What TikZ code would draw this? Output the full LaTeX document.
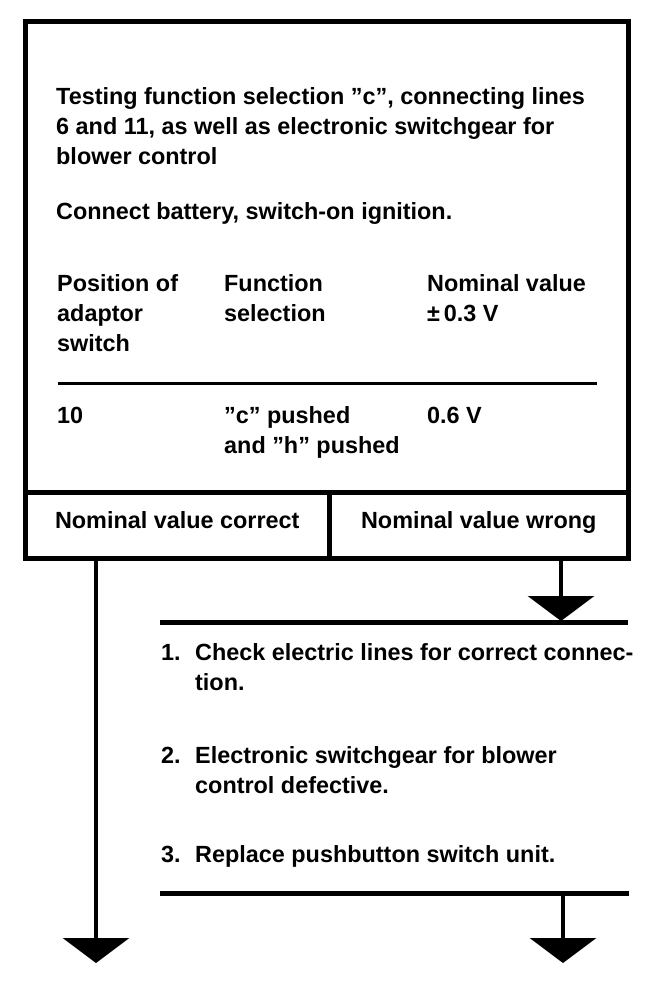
\documentclass[tikz,border=0pt]{standalone}
\usepackage{fontspec}
\setmainfont{Liberation Sans}
\usetikzlibrary{positioning}
\usetikzlibrary{calc}
\usetikzlibrary{arrows.meta}

\newcommand{\itemno}[1]{\makebox[34pt][l]{#1}}

\begin{document}
\begin{tikzpicture}[
    x=1pt, y=-1pt,
    txt/.style={anchor=base west, inner sep=0pt, align=left, font=\fontsize{23.4}{30}\selectfont\bfseries},
    cell/.style={draw, line width=4.5pt, anchor=north west, minimum height=66pt, inner sep=0pt, text height=17pt, text depth=11pt, font=\fontsize{23.4}{30}\selectfont\bfseries},
    bar/.style={line width=5pt},
    flow/.style={line width=4pt, -{Triangle[width=66pt, length=25pt]}}
]
    \useasboundingbox (0,0) rectangle (672,986);

    % test box (base west = baseline of the last line)
    \node[draw, line width=4.5pt, anchor=north west, inner sep=0pt, minimum width=603pt, minimum height=537pt] (test) at (23,19) {};
    \node[txt] (title) at (56,164) {Testing function selection ''c'', connecting lines\\6 and 11, as well as electronic switchgear for\\blower control};
    \node[txt] (battery) at (56,219) {Connect battery, switch-on ignition.};

    \node[txt] (posh) at (57,351) {Position of\\adaptor\\switch};
    \node[txt] (funch) at (224,321) {Function\\selection};
    \node[txt] (nomh) at (427,321) {Nominal value\\±\,0.3 V};
    \coordinate (ruleA) at (58,383);
    \coordinate (ruleB) at (597,383);
    \draw[line width=3pt] (ruleA) -- (ruleB);
    \node[txt] (posv) at (57,423) {10};
    \node[txt] (funcv) at (224,453) {''c'' pushed\\and ''h'' pushed};
    \node[txt] (nomv) at (427,423) {0.6 V};

    % result cells
    \node[cell, minimum width=304pt] (ok) at (23,490) {Nominal value correct};
    \node[cell, minimum width=299pt] (wrong) at (327,490) {Nominal value wrong};

    % left branch
    \coordinate (okfoot) at (96,556);
    \coordinate (okend) at (96,963);
    \draw[flow] (okfoot) -- (okend);

    % right branch
    \coordinate (wrongfoot) at (561,556);
    \coordinate (fixtop) at (561,621);
    \draw[flow] (wrongfoot) -- (fixtop);
    \coordinate (barA) at (160,622);
    \coordinate (barB) at (628,622);
    \draw[bar] (barA) -- (barB);

    \node[txt] (fix1) at (161,690) {\itemno{1.}Check electric lines for correct connec-\\\hspace*{34pt}tion.};
    \node[txt] (fix2) at (161,793) {\itemno{2.}Electronic switchgear for blower\\\hspace*{34pt}control defective.};
    \node[txt] (fix3) at (161,862) {\itemno{3.}Replace pushbutton switch unit.};

    \coordinate (barC) at (160,893);
    \coordinate (barD) at (629,893);
    \draw[bar] (barC) -- (barD);
    \coordinate (fixfoot) at (563,893);
    \coordinate (fixend) at (563,963);
    \draw[flow] (fixfoot) -- (fixend);
\end{tikzpicture}
\end{document}
